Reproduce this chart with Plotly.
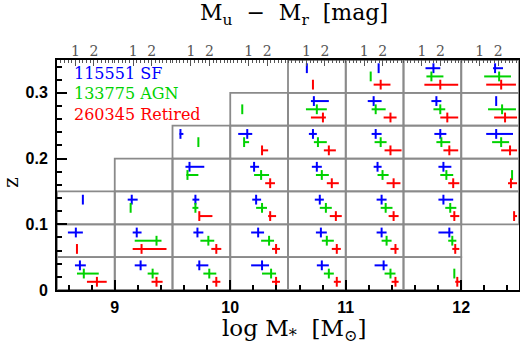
import plotly.graph_objects as go

# ---------------- data ----------------
MASS_EDGES = [8.5, 9.0, 9.5, 10.0, 10.5, 11.0, 11.5, 12.0, 12.5]
Z_EDGES = [0.0, 0.05, 0.10, 0.15, 0.20, 0.25, 0.30, 0.35]
ROW_MASS_MIN = [8.5, 8.5, 8.5, 9.0, 9.5, 10.0, 10.5]
ROW_MASS_MAX = [12.0, 12.0, 12.5, 12.5, 12.5, 12.5, 12.5]

COLOR_TICKS = [1, 2]
LEGEND_COUNTS = ["115551", "133775", "260345"]
LEGEND_NAMES = ["SF", "AGN", "Retired"]

# (log M bin left edge, z bin left edge, low, median, high) of Mu - Mr [mag]
SF = [
    (8.5, 0.00, 0.97, 1.24, 1.56), (8.5, 0.05, 0.59, 1.02, 1.40), (8.5, 0.10, 1.40, 1.40, 1.40),
    (9.0, 0.00, 1.08, 1.40, 1.72), (9.0, 0.05, 0.97, 1.19, 1.45), (9.0, 0.10, 0.70, 0.92, 1.24),
    (9.5, 0.00, 1.29, 1.45, 1.94), (9.5, 0.05, 1.13, 1.35, 1.67), (9.5, 0.10, 1.08, 1.24, 1.45),
    (9.5, 0.15, 0.70, 0.92, 1.72), (9.5, 0.20, 0.38, 0.43, 0.59),
    (10.0, 0.00, 1.13, 1.72, 2.10), (10.0, 0.05, 1.13, 1.51, 1.83), (10.0, 0.10, 1.19, 1.40, 1.67),
    (10.0, 0.15, 1.08, 1.29, 1.56), (10.0, 0.20, 0.43, 0.92, 1.19),
    (10.5, 0.00, 1.56, 1.83, 2.21), (10.5, 0.05, 1.51, 1.78, 2.10), (10.5, 0.10, 1.45, 1.72, 1.94),
    (10.5, 0.15, 1.29, 1.56, 1.83), (10.5, 0.20, 1.13, 1.35, 1.56), (10.5, 0.25, 1.24, 1.40, 2.21),
    (10.5, 0.30, 1.02, 1.02, 1.02),
    (11.0, 0.00, 1.56, 2.05, 2.26), (11.0, 0.05, 1.67, 1.94, 2.21), (11.0, 0.10, 1.67, 1.94, 2.21),
    (11.0, 0.15, 1.51, 1.72, 1.94), (11.0, 0.20, 1.40, 1.62, 1.94), (11.0, 0.25, 1.19, 1.51, 1.94),
    (11.0, 0.30, 1.78, 1.78, 1.78),
    (11.5, 0.05, 1.89, 2.48, 2.69), (11.5, 0.10, 1.89, 2.16, 2.69), (11.5, 0.15, 1.89, 2.16, 2.59),
    (11.5, 0.20, 1.67, 1.99, 2.32), (11.5, 0.25, 1.51, 1.78, 2.05), (11.5, 0.30, 1.19, 1.62, 1.99),
    (12.0, 0.20, 1.35, 1.89, 2.80), (12.0, 0.25, 1.89, 1.89, 1.89), (12.0, 0.30, 1.72, 1.83, 2.26),
]
AGN = [
    (8.5, 0.00, 1.08, 1.45, 2.26),
    (9.0, 0.00, 1.78, 2.05, 2.37), (9.0, 0.05, 1.08, 2.26, 2.53), (9.0, 0.10, 0.86, 0.86, 0.86),
    (9.5, 0.00, 1.67, 1.99, 2.37), (9.5, 0.05, 1.51, 1.94, 2.26), (9.5, 0.10, 1.08, 1.24, 1.40),
    (9.5, 0.15, 0.75, 0.81, 1.40), (9.5, 0.20, 1.40, 1.40, 1.40),
    (10.0, 0.00, 1.72, 2.21, 2.48), (10.0, 0.05, 1.67, 2.10, 2.37), (10.0, 0.10, 1.40, 1.72, 1.99),
    (10.0, 0.15, 1.29, 1.67, 2.10), (10.0, 0.20, 0.75, 0.75, 1.02), (10.0, 0.25, 0.65, 0.65, 0.65),
    (10.5, 0.00, 1.94, 2.21, 2.48), (10.5, 0.05, 1.83, 2.10, 2.48), (10.5, 0.10, 1.72, 2.05, 2.37),
    (10.5, 0.15, 1.51, 1.83, 2.21), (10.5, 0.20, 1.40, 1.62, 2.10), (10.5, 0.25, 0.97, 1.56, 2.10),
    (11.0, 0.00, 2.10, 2.42, 2.69), (11.0, 0.05, 1.94, 2.21, 2.48), (11.0, 0.10, 1.89, 2.16, 2.53),
    (11.0, 0.15, 1.72, 1.99, 2.32), (11.0, 0.20, 1.56, 1.89, 2.21), (11.0, 0.25, 1.40, 1.62, 2.16),
    (11.0, 0.30, 1.35, 1.35, 1.35),
    (11.5, 0.00, 2.75, 2.75, 2.75), (11.5, 0.05, 2.42, 2.64, 2.86), (11.5, 0.10, 2.26, 2.53, 2.86),
    (11.5, 0.15, 1.99, 2.32, 2.69), (11.5, 0.20, 1.78, 2.05, 2.53), (11.5, 0.25, 1.62, 1.99, 2.26),
    (11.5, 0.30, 1.24, 1.51, 2.16),
    (12.0, 0.15, 2.75, 2.75, 2.75), (12.0, 0.20, 1.67, 2.16, 2.59), (12.0, 0.25, 1.45, 2.21, 2.96),
    (12.0, 0.30, 1.24, 2.05, 2.69),
]
RETIRED = [
    (8.5, 0.00, 1.62, 2.16, 2.69), (8.5, 0.05, 1.08, 1.08, 1.08),
    (9.0, 0.00, 1.99, 2.26, 2.59), (9.0, 0.05, 0.97, 1.45, 2.80),
    (9.5, 0.00, 2.16, 2.37, 2.59), (9.5, 0.05, 2.10, 2.37, 2.64), (9.5, 0.10, 1.45, 1.45, 2.16),
    (10.0, 0.00, 2.26, 2.48, 2.69), (10.0, 0.05, 2.26, 2.48, 2.69), (10.0, 0.10, 2.05, 2.16, 2.48),
    (10.0, 0.15, 1.89, 2.16, 2.42), (10.0, 0.20, 1.72, 1.72, 2.05),
    (10.5, 0.00, 2.48, 2.64, 2.86), (10.5, 0.05, 2.37, 2.64, 2.86), (10.5, 0.10, 2.26, 2.59, 2.91),
    (10.5, 0.15, 2.10, 2.37, 2.75), (10.5, 0.20, 1.94, 2.21, 2.59), (10.5, 0.25, 1.24, 1.89, 2.05),
    (10.5, 0.30, 1.35, 1.35, 1.35),
    (11.0, 0.00, 2.48, 2.69, 2.86), (11.0, 0.05, 2.42, 2.69, 2.86), (11.0, 0.10, 2.32, 2.59, 2.86),
    (11.0, 0.15, 2.21, 2.59, 2.96), (11.0, 0.20, 2.10, 2.42, 3.02), (11.0, 0.25, 2.05, 2.42, 2.75),
    (11.0, 0.30, 1.51, 1.89, 2.42),
    (11.5, 0.00, 2.80, 2.91, 3.07), (11.5, 0.05, 2.64, 2.80, 3.02), (11.5, 0.10, 2.53, 2.75, 3.02),
    (11.5, 0.15, 2.42, 2.69, 3.02), (11.5, 0.20, 2.16, 2.48, 2.96), (11.5, 0.25, 1.99, 2.37, 2.96),
    (11.5, 0.30, 1.13, 1.99, 2.96),
    (12.0, 0.10, 2.86, 2.86, 3.02), (12.0, 0.15, 2.53, 2.69, 3.02), (12.0, 0.20, 2.16, 2.64, 3.02),
    (12.0, 0.25, 1.78, 2.37, 3.02), (12.0, 0.30, 1.35, 2.16, 2.96),
]

# ---------------- style ----------------
DEX_PER_MAG = 0.16          # width of 1 mag of colour inside a mass bin
COLORS = ["#0000ff", "#00d200", "#ff0000"]
Z_OFFSETS = [0.0375, 0.025, 0.0125]
GRID = "#8a8a8a"
SERIF = "DejaVu Serif"

fig = go.Figure()

# bin boxes
for r in range(len(Z_EDGES) - 1):
    for k in range(len(MASS_EDGES) - 1):
        m0, m1 = MASS_EDGES[k], MASS_EDGES[k + 1]
        if m0 >= ROW_MASS_MIN[r] and m1 <= ROW_MASS_MAX[r]:
            fig.add_shape(type="rect", xref="x", yref="y", x0=m0, x1=m1,
                          y0=Z_EDGES[r], y1=Z_EDGES[r + 1],
                          line=dict(color=GRID, width=1.8), layer="below")

for pop, col, dz in zip([SF, AGN, RETIRED], COLORS, Z_OFFSETS):
    xs = [m + DEX_PER_MAG * med for m, z, lo, med, hi in pop]
    ys = [z + dz for m, z, lo, med, hi in pop]
    ep = [DEX_PER_MAG * (hi - med) for m, z, lo, med, hi in pop]
    em = [DEX_PER_MAG * (med - lo) for m, z, lo, med, hi in pop]
    fig.add_trace(go.Scatter(
        x=xs, y=ys, mode="markers", showlegend=False, hoverinfo="skip",
        marker=dict(symbol="line-ns", size=7, color=col, line=dict(color=col, width=2)),
        error_x=dict(type="data", symmetric=False, array=ep, arrayminus=em,
                     color=col, thickness=2, width=0),
    ))

# top colour ruler axis
top_major = []
top_text = []
top_minor = []
for m in MASS_EDGES[:-1]:
    for c in COLOR_TICKS:
        top_major.append(m + DEX_PER_MAG * c)
        top_text.append(str(c))
    for i in range(0, 16):
        top_minor.append(m + DEX_PER_MAG * 0.2 * i)
fig.add_trace(go.Scatter(x=[8.5, 12.5], y=[0, 0], xaxis="x2", mode="markers",
                         marker=dict(opacity=0), showlegend=False, hoverinfo="skip"))

fig.update_layout(
    width=520, height=347,
    margin=dict(l=57, r=1, t=60, b=57, autoexpand=False),
    plot_bgcolor="white", paper_bgcolor="white",
    xaxis=dict(range=[8.5, 12.5], showgrid=False, zeroline=False, automargin=False,
               showline=True, linecolor="black", linewidth=2, mirror=True,
               ticks="inside", ticklen=10, tickwidth=1.5, tickcolor="black",
               tickvals=[9, 10, 11, 12], ticklabelstandoff=2,
               minor=dict(ticks="inside", dtick=0.2, tick0=8.6, ticklen=5, tickwidth=1.5, tickcolor="black"),
               tickfont=dict(family="Liberation Sans", size=16, color="black", weight="bold")),
    xaxis2=dict(range=[8.5, 12.5], overlaying="x", side="top", showgrid=False, zeroline=False,
                automargin=False,
                showline=False, ticks="inside", ticklen=6, tickwidth=1, tickcolor="#555",
                tickmode="array", tickvals=top_major, ticktext=top_text,
                minor=dict(ticks="inside", tickmode="array", tickvals=top_minor, ticklen=3,
                           tickwidth=1, tickcolor="#555"),
                tickfont=dict(family=SERIF, size=14, color="#555")),
    yaxis=dict(range=[0, 0.35], showgrid=False, zeroline=False, automargin=False,
               showline=True, linecolor="black", linewidth=2, mirror=True,
               ticks="inside", ticklen=10, tickwidth=1.5, tickcolor="black",
               tickvals=[0, 0.1, 0.2, 0.3], ticktext=["0", "0.1", "0.2", "0.3"],
               ticklabelstandoff=4,
               minor=dict(ticks="inside", dtick=0.02, tick0=0, ticklen=5, tickwidth=1.5, tickcolor="black"),
               tickfont=dict(family="Liberation Sans", size=16, color="black", weight="bold")),
)

annotations = []
for i, (cnt, name) in enumerate(zip(LEGEND_COUNTS, LEGEND_NAMES)):
    annotations.append(dict(xref="paper", yref="paper", x=0.032, y=0.943 - 0.089 * i,
                            xanchor="left", yanchor="middle", showarrow=False,
                            text=f"{cnt} {name}",
                            font=dict(family=SERIF, size=16, color=COLORS[i])))
annotations.append(dict(xref="paper", yref="paper", x=0.513, y=1.2, xanchor="center", yanchor="middle",
                        showarrow=False, text="M<sub>u</sub>  \u2212  M<sub>r</sub>  [mag]",
                        font=dict(family=SERIF, size=22, color="black")))
annotations.append(dict(xref="paper", yref="paper", x=0.513, y=-0.175, xanchor="center", yanchor="middle",
                        showarrow=False, text="log M<sub>*</sub>  [M<sub>\u2299</sub>]",
                        font=dict(family=SERIF, size=23, color="black")))
annotations.append(dict(xref="paper", yref="paper", x=-0.1, y=0.47, xanchor="center", yanchor="middle",
                        showarrow=False, text="z", textangle=-90,
                        font=dict(family=SERIF, size=20, color="black")))
fig.update_layout(annotations=annotations)

fig.write_html("out.html", config={"displayModeBar": False},
               post_script="document.body.style.margin='0';document.body.style.overflow='hidden';")
